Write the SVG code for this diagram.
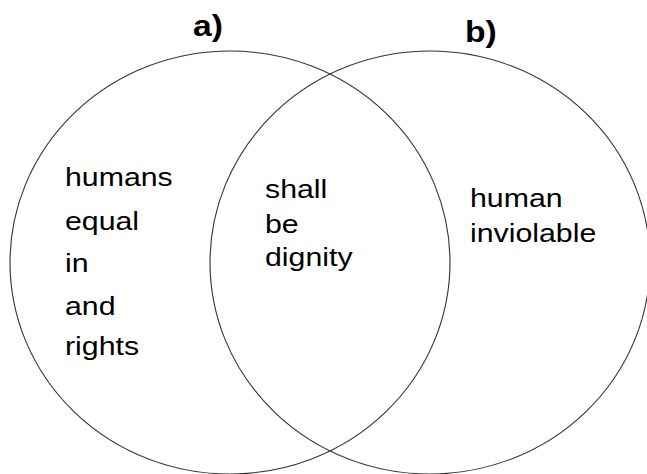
<svg xmlns="http://www.w3.org/2000/svg" width="647" height="474" viewBox="0 0 647 474">
<style>
.ring{fill:none;stroke:#333;stroke-width:1.1}
.t{font-family:"Liberation Sans",Arial,sans-serif;font-size:26px;fill:#000}
.h{font-family:"Liberation Sans",Arial,sans-serif;font-size:29px;font-weight:bold;fill:#000}
</style>
<rect width="647" height="474" fill="#fff"/>
<g id="setA">
<ellipse class="ring" cx="230" cy="262.5" rx="220" ry="211.5"/>
<g transform="translate(193 0) scale(1.16 1)"><text class="h" x="0" y="36">a)</text></g>
<g transform="translate(65 0) scale(1.165 1)">
<text class="t" x="0" y="186">humans</text>
<text class="t" x="0" y="230">equal</text>
<text class="t" x="0" y="272">in</text>
<text class="t" x="0" y="315">and</text>
<text class="t" x="0" y="355">rights</text>
</g>
</g>
<g id="setB">
<ellipse class="ring" cx="430" cy="262.5" rx="220" ry="211.5"/>
<g transform="translate(465 0) scale(1.16 1)"><text class="h" x="0" y="42">b)</text></g>
<g transform="translate(470 0) scale(1.165 1)">
<text class="t" x="0" y="207">human</text>
<text class="t" x="0" y="242">inviolable</text>
</g>
</g>
<g id="overlap">
<g transform="translate(265 0) scale(1.165 1)">
<text class="t" x="0" y="198">shall</text>
<text class="t" x="0" y="233">be</text>
<text class="t" x="0" y="266">dignity</text>
</g>
</g>
<g id="connectors"/>
</svg>
